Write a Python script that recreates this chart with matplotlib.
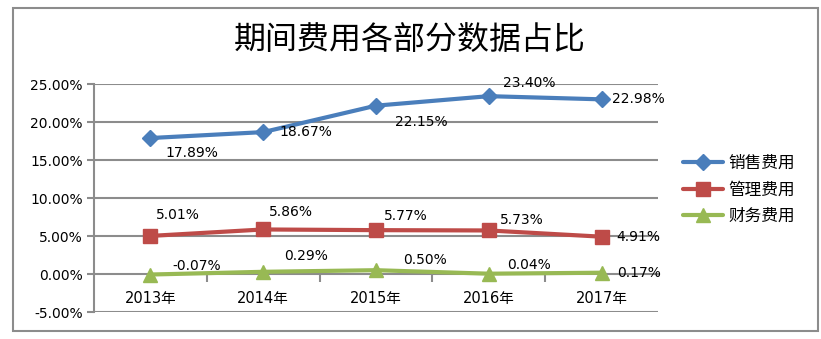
import matplotlib
matplotlib.use('Agg')
import matplotlib.pyplot as plt
from matplotlib.patches import Rectangle

plt.rcParams['font.family'] = ['DejaVu Sans', 'Noto Sans CJK SC']

# Data
years = ['2013年', '2014年', '2015年', '2016年', '2017年']
sales = [17.89, 18.67, 22.15, 23.40, 22.98]
admin = [5.01, 5.86, 5.77, 5.73, 4.91]
finance = [-0.07, 0.29, 0.50, 0.04, 0.17]
series_names = ['销售费用', '管理费用', '财务费用']

# label offsets in pixels (dx, dy)
sales_off = [(41, -15), (43, 0), (45, -16), (40, 13), (37, 0)]
admin_off = [(27, 21), (28, 17), (30, 14), (33, 10), (37, 0)]
fin_off = [(46, 9), (43, 16), (49, 10), (40, 9), (37, 0)]

colors = ['#4a7ebb', '#be4b48', '#98b954']
markers = ['D', 's', '^']
msizes = [8.5, 10, 10]

fig = plt.figure(figsize=(8.21, 3.39), dpi=100)
ax = fig.add_axes([94 / 821, 27 / 339, 564 / 821, 228 / 339])

x = list(range(len(years)))
all_vals = [sales, admin, finance]
all_offs = [sales_off, admin_off, fin_off]
for vals, offs, name, c, m, ms in zip(all_vals, all_offs, series_names, colors, markers, msizes):
    ax.plot(x, vals, color=c, lw=3, marker=m, markersize=ms, label=name, zorder=3,
            solid_capstyle='round')
    for xi, v, (dx, dy) in zip(x, vals, offs):
        ax.annotate(f'{v:.2f}%', (xi, v), xytext=(dx, dy), textcoords='offset pixels',
                    ha='center', va='center', fontsize=10, color='black', zorder=4)

# Axes
ax.set_xlim(-0.5, 4.5)
ax.set_ylim(-5, 25)
ax.set_yticks([-5, 0, 5, 10, 15, 20, 25])
ax.set_yticklabels([f'{t:.2f}%' for t in [-5, 0, 5, 10, 15, 20, 25]], fontsize=10)
grid_c = '#8c8c8c'
for t in [-5, 5, 10, 15, 20, 25]:
    ax.axhline(t, color=grid_c, lw=1.5, zorder=1)

ax.spines['top'].set_visible(False)
ax.spines['right'].set_visible(False)
ax.spines['left'].set_color(grid_c)
ax.spines['left'].set_linewidth(1.5)
ax.spines['bottom'].set_position(('data', 0))
ax.spines['bottom'].set_color(grid_c)
ax.spines['bottom'].set_linewidth(1.5)
ax.tick_params(axis='y', length=5, width=1.5, color=grid_c, pad=3)

ax.set_xticks(x)
ax.set_xticklabels(years, fontsize=10.5)
ax.set_xticks([0.5, 1.5, 2.5, 3.5], minor=True)
ax.tick_params(axis='x', which='major', length=0, pad=12)
ax.tick_params(axis='x', which='minor', length=6, width=1.5, color=grid_c, direction='out')

# Title
fig.text(410 / 821, (339 - 40) / 339, '期间费用各部分数据占比', ha='center', va='center',
         fontsize=23, family=['Noto Sans CJK SC'])

# Legend
ax.legend(loc='center left', bbox_to_anchor=(0.832, 0.44), bbox_transform=fig.transFigure,
          frameon=False, handlelength=2.4, handletextpad=0.3,
          labelspacing=0.55, borderpad=0, borderaxespad=0,
          prop={'family': ['Noto Sans CJK SC'], 'size': 12})

# Border
fig.patches.append(Rectangle((13 / 821, 8 / 339), 805 / 821, 323 / 339, transform=fig.transFigure,
                             fill=False, edgecolor='#8c8c8c', lw=1.5))

fig.savefig('out.png', dpi=100)
